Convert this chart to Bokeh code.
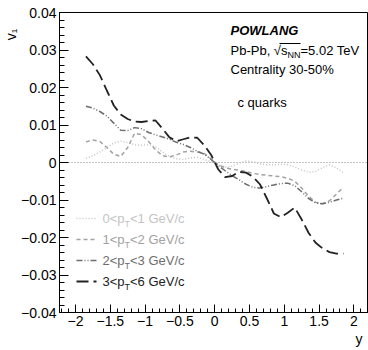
import numpy as np
from bokeh.plotting import figure
from bokeh.models import Range1d, FixedTicker, Span, Label, Arrow, Title
from bokeh.embed import file_html
from bokeh.resources import INLINE

# ---------------- data ----------------
rapidity = [-1.85, -1.75, -1.65, -1.55, -1.45, -1.35, -1.25, -1.15, -1.05, -0.95,
            -0.85, -0.75, -0.65, -0.55, -0.45, -0.35, -0.25, -0.15, -0.05,
            0.05, 0.15, 0.25, 0.35, 0.45, 0.55, 0.65, 0.75, 0.85, 0.95,
            1.05, 1.15, 1.25, 1.35, 1.45, 1.55, 1.65, 1.75, 1.85]

v1_pt_0_1 = [0.0011, 0.0018, 0.0028, 0.0040, 0.0052, 0.0057, 0.0053, 0.0047, 0.0046, 0.0048,
             0.0042, 0.0028, 0.0016, 0.0010, 0.0008, 0.0012, 0.0014, 0.0008, 0.0002,
             -0.0006, -0.0012, -0.0010, -0.0002, 0.0004, 0.0002, -0.0004, -0.0006, -0.0006, -0.0005,
             -0.0006, -0.0012, -0.0020, -0.0026, -0.0024, -0.0014, -0.0006, -0.0014, -0.0028]

v1_pt_1_2 = [0.0055, 0.0060, 0.0056, 0.0040, 0.0022, 0.0016, 0.0040, 0.0078, 0.0074, 0.0056,
             0.0034, 0.0018, 0.0015, 0.0020, 0.0028, 0.0030, 0.0028, 0.0024, 0.0009,
             -0.0006, -0.0014, -0.0018, -0.0020, -0.0024, -0.0029, -0.0032, -0.0034, -0.0036, -0.0038,
             -0.0042, -0.0050, -0.0068, -0.0090, -0.0106, -0.0110, -0.0102, -0.0084, -0.0066]

v1_pt_2_3 = [0.0150, 0.0145, 0.0136, 0.0124, 0.0105, 0.0086, 0.0085, 0.0093, 0.0090, 0.0080,
             0.0074, 0.0068, 0.0062, 0.0054, 0.0048, 0.0040, 0.0030, 0.0022, 0.0008,
             -0.0008, -0.0022, -0.0035, -0.0046, -0.0058, -0.0066, -0.0068, -0.0064, -0.0060, -0.0056,
             -0.0055, -0.0062, -0.0078, -0.0096, -0.0108, -0.0110, -0.0106, -0.0100, -0.0095]

v1_pt_3_6 = [0.0283, 0.0262, 0.0233, 0.0192, 0.0152, 0.0128, 0.0116, 0.0109, 0.0108, 0.0111,
             0.0112, 0.0090, 0.0067, 0.0057, 0.0062, 0.0067, 0.0066, 0.0046, 0.0020,
             -0.0018, -0.0039, -0.0036, -0.0025, -0.0027, -0.0038, -0.0058, -0.0096, -0.0136, -0.0146,
             -0.0134, -0.0120, -0.0152, -0.0188, -0.0214, -0.0229, -0.0239, -0.0243, -0.0243]

pt_low = ["0", "1", "2", "3"]
pt_high = ["1", "2", "3", "6"]

x_ticks = [-2, -1.5, -1, -0.5, 0, 0.5, 1, 1.5, 2]
x_tick_labels = ["\u22122", "\u22121.5", "\u22121", "\u22120.5", "0", "0.5", "1", "1.5", "2"]
y_ticks = [-0.04, -0.03, -0.02, -0.01, 0, 0.01, 0.02, 0.03, 0.04]
y_tick_labels = ["\u22120.04", "\u22120.03", "\u22120.02", "\u22120.01", "0", "0.01", "0.02", "0.03", "0.04"]

# ---------------- styling ----------------
FONT = "Liberation Sans"
colors = ["#c4c4c4", "#a2a2a2", "#6e6e6e", "#222222"]
dashes = ["1 2", "4 3", "6 2 1 2 1 2", "12 5"]
widths = [1.5, 1.5, 1.5, 1.8]

L, R, T, B = 56, 368, 12, 312
W, H = 368, 350

p = figure(width=W, height=H, output_backend="svg", toolbar_location=None,
           x_range=Range1d(-2.23, 2.21), y_range=Range1d(-0.04, 0.04),
           min_border_left=L, min_border_right=W - R, min_border_top=T,
           min_border_bottom=H - B)
p.background_fill_color = "white"
p.border_fill_color = "white"
p.grid.visible = False
p.outline_line_color = "black"
p.outline_line_width = 1

x_minor = [round(v, 2) for v in np.arange(-2.2, 2.25, 0.1)]
y_minor = [round(v, 4) for v in np.arange(-0.04, 0.0401, 0.002)]
p.xaxis.ticker = FixedTicker(ticks=x_ticks, minor_ticks=x_minor)
p.yaxis.ticker = FixedTicker(ticks=y_ticks, minor_ticks=y_minor)
p.xaxis.major_label_overrides = {t: s for t, s in zip(x_ticks, x_tick_labels)}
p.yaxis.major_label_overrides = {t: s for t, s in zip(y_ticks, y_tick_labels)}

for ax, mj, mn in ((p.xaxis, 8, 4), (p.yaxis, 9, 5)):
    ax.major_tick_in = mj
    ax.major_tick_out = 0
    ax.minor_tick_in = mn
    ax.minor_tick_out = 0
    ax.major_label_standoff = 3
    ax.major_label_text_font = FONT
    ax.major_label_text_font_size = "14px"
    ax.major_label_text_color = "black"
    ax.axis_line_color = "black"
    ax.major_tick_line_color = "black"
    ax.minor_tick_line_color = "black"

zero = Span(location=0, dimension="width", line_color="#8a8a8a", line_dash="1 2", line_width=1)
zero.level = "underlay"
p.add_layout(zero)

series = [v1_pt_0_1, v1_pt_1_2, v1_pt_2_3, v1_pt_3_6]
for vals, c, d, w in zip(series, colors, dashes, widths):
    p.line(rapidity, vals, line_color=c, line_dash=d, line_width=w)


def lab(text, cx, cy, size="13px", color="black", style="normal", align="left",
        baseline="middle", angle=0.0):
    p.add_layout(Label(x=cx - L, y=B - cy, x_units="screen", y_units="screen",
                       text=text, text_font=FONT, text_font_size=size,
                       text_color=color, text_font_style=style, text_align=align,
                       text_baseline=baseline, angle=angle))


def seg(x0, y0, x1, y1, color, dash="solid", width=1.0):
    p.add_layout(Arrow(end=None, x_start=x0 - L, y_start=B - y0, x_end=x1 - L, y_end=B - y1,
                       start_units="screen", end_units="screen", line_color=color,
                       line_dash=dash, line_width=width))


# header texts
lab("POWLANG", 227, 30, style="bold italic")
lab("Pb-Pb, \u221a", 227, 50)
lab("s", 277.5, 50)
lab("NN", 284, 54, size="9px")
lab("=5.02 TeV", 297, 50)
seg(276, 43, 297, 43, "black", width=1)
lab("Centrality 30-50%", 227, 69)
lab("c quarks", 234, 102)

# legend
row_y = [218, 239, 260, 281]
for lo, hi, c, d, w, ry in zip(pt_low, pt_high, colors, dashes, widths, row_y):
    seg(73, ry, 93, ry, c, d, w)
    lab(lo + "<p", 99, ry, color=c)
    lab("T", 121, ry + 5, size="9px", color=c)
    lab("<" + hi + " GeV/c", 126.5, ry, color=c)

# axis titles (as side titles so they are not clipped by the frame)
p.add_layout(Title(text="v\u2081", align="right", offset=16, standoff=0,
                   text_font=FONT, text_font_size="14px", text_font_style="normal",
                   text_color="black"), "left")
p.add_layout(Title(text="y", align="right", offset=6, standoff=0,
                   text_font=FONT, text_font_size="14px", text_font_style="normal",
                   text_color="black"), "below")

open("out.html", "w").write(file_html(p, INLINE))
